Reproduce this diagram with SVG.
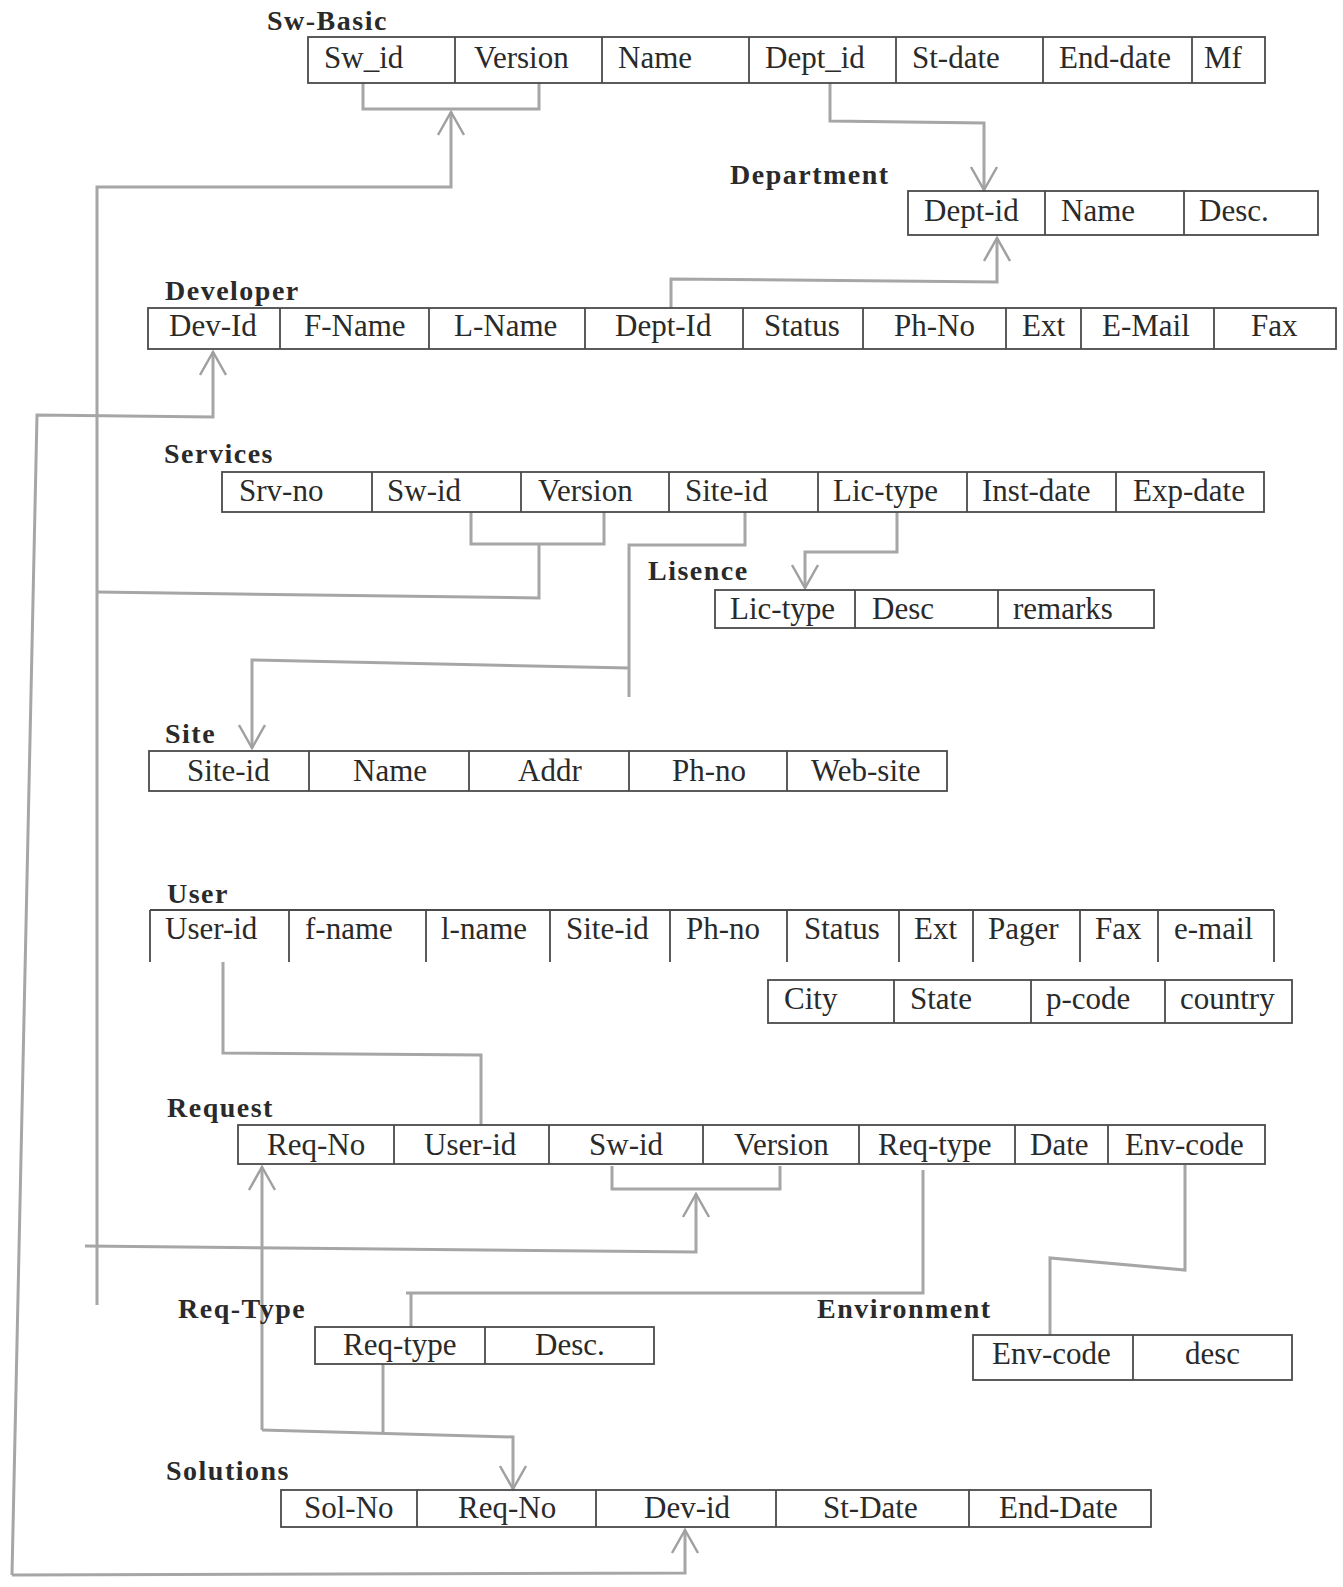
<svg xmlns="http://www.w3.org/2000/svg" width="1343" height="1587" viewBox="0 0 1343 1587">
<style>
.bg{fill:#ffffff}
.box{fill:none;stroke:#4a4a4a;stroke-width:1.8}
.div{stroke:#4a4a4a;stroke-width:1.8}
.t{font-family:"Liberation Serif","Times New Roman",serif;font-size:31px;fill:#2a2a2a}
.lbl{font-family:"Liberation Serif","Times New Roman",serif;font-size:28px;font-weight:bold;letter-spacing:1.5px;fill:#2a2a2a}
.c{fill:none;stroke:#a6a6a6;stroke-width:3;stroke-linejoin:miter}
</style>
<defs>
<marker id="ah" markerUnits="userSpaceOnUse" markerWidth="40" markerHeight="40" refX="30" refY="20" orient="auto">
<path d="M7,7 L30,20 L7,33" fill="none" stroke="#a0a0a0" stroke-width="2.5"/>
</marker>
</defs>
<rect class="bg" x="0" y="0" width="1343" height="1587"/>

<g id="connectors">
<path class="c" d="M363,83 V109 H539 V83"/>
<path class="c" d="M97,1305 V187 H451 V112" marker-end="url(#ah)"/>
<path class="c" d="M471,512 V544 H604 V512"/>
<path class="c" d="M539,544 V598 L97,592"/>
<path class="c" d="M612,1166 V1189 H780 V1166"/>
<path class="c" d="M85,1246 L696,1252 V1194" marker-end="url(#ah)"/>
<path class="c" d="M830,83 V121 L984,123 V190" marker-end="url(#ah)"/>
<path class="c" d="M671,308 V279 L997,282 V238" marker-end="url(#ah)"/>
<path class="c" d="M12,1575 L37,415 L213,417 V352" marker-end="url(#ah)"/>
<path class="c" d="M12,1575 L685,1573 V1530" marker-end="url(#ah)"/>
<path class="c" d="M745,512 V545 H629 V697"/>
<path class="c" d="M629,668 L252,660 V748" marker-end="url(#ah)"/>
<path class="c" d="M897,512 V552 H805 V588" marker-end="url(#ah)"/>
<path class="c" d="M223,962 V1053 L481,1055 V1125"/>
<path class="c" d="M262,1430 V1167" marker-end="url(#ah)"/>
<path class="c" d="M262,1430 L513,1437 V1489" marker-end="url(#ah)"/>
<path class="c" d="M383,1364 V1432"/>
<path class="c" d="M923,1170 V1293 H406 M411,1293 V1327"/>
<path class="c" d="M1185,1165 V1270 L1050,1258 V1335"/>
</g>

<g id="sw-basic">
<text class="lbl" x="267" y="30">Sw-Basic</text>
<rect class="box" x="308" y="37" width="957" height="46"/>
<path class="div" d="M455,37V83M602,37V83M749,37V83M896,37V83M1043,37V83M1192,37V83"/>
<text class="t" x="324" y="68">Sw_id</text>
<text class="t" x="474" y="68">Version</text>
<text class="t" x="618" y="68">Name</text>
<text class="t" x="765" y="68">Dept_id</text>
<text class="t" x="912" y="68">St-date</text>
<text class="t" x="1059" y="68">End-date</text>
<text class="t" x="1204" y="68">Mf</text>
</g>

<g id="department">
<text class="lbl" x="730" y="184">Department</text>
<rect class="box" x="908" y="191" width="410" height="44"/>
<path class="div" d="M1045,191V235M1184,191V235"/>
<text class="t" x="924" y="221">Dept-id</text>
<text class="t" x="1061" y="221">Name</text>
<text class="t" x="1199" y="221">Desc.</text>
</g>

<g id="developer">
<text class="lbl" x="165" y="300">Developer</text>
<rect class="box" x="148" y="308" width="1188" height="41"/>
<path class="div" d="M280,308V349M429,308V349M585,308V349M743,308V349M863,308V349M1006,308V349M1081,308V349M1214,308V349"/>
<text class="t" x="169" y="336">Dev-Id</text>
<text class="t" x="304" y="336">F-Name</text>
<text class="t" x="454" y="336">L-Name</text>
<text class="t" x="615" y="336">Dept-Id</text>
<text class="t" x="764" y="336">Status</text>
<text class="t" x="894" y="336">Ph-No</text>
<text class="t" x="1022" y="336">Ext</text>
<text class="t" x="1102" y="336">E-Mail</text>
<text class="t" x="1251" y="336">Fax</text>
</g>

<g id="services">
<text class="lbl" x="164" y="463">Services</text>
<rect class="box" x="222" y="472" width="1042" height="40"/>
<path class="div" d="M372,472V512M521,472V512M669,472V512M818,472V512M967,472V512M1116,472V512"/>
<text class="t" x="239" y="501">Srv-no</text>
<text class="t" x="387" y="501">Sw-id</text>
<text class="t" x="538" y="501">Version</text>
<text class="t" x="685" y="501">Site-id</text>
<text class="t" x="833" y="501">Lic-type</text>
<text class="t" x="982" y="501">Inst-date</text>
<text class="t" x="1133" y="501">Exp-date</text>
</g>

<g id="lisence">
<text class="lbl" x="648" y="580">Lisence</text>
<rect class="box" x="715" y="590" width="439" height="38"/>
<path class="div" d="M855,590V628M998,590V628"/>
<text class="t" x="730" y="619">Lic-type</text>
<text class="t" x="872" y="619">Desc</text>
<text class="t" x="1013" y="619">remarks</text>
</g>

<g id="site">
<text class="lbl" x="165" y="743">Site</text>
<rect class="box" x="149" y="751" width="798" height="40"/>
<path class="div" d="M309,751V791M469,751V791M629,751V791M787,751V791"/>
<text class="t" x="187" y="781">Site-id</text>
<text class="t" x="353" y="781">Name</text>
<text class="t" x="518" y="781">Addr</text>
<text class="t" x="672" y="781">Ph-no</text>
<text class="t" x="811" y="781">Web-site</text>
</g>

<g id="user">
<text class="lbl" x="167" y="903">User</text>
<path class="div" d="M150,910H1274M150,910V962M289,910V962M426,910V962M550,910V962M670,910V962M787,910V962M899,910V962M973,910V962M1080,910V962M1158,910V962M1274,910V962"/>
<text class="t" x="165" y="939">User-id</text>
<text class="t" x="305" y="939">f-name</text>
<text class="t" x="441" y="939">l-name</text>
<text class="t" x="566" y="939">Site-id</text>
<text class="t" x="686" y="939">Ph-no</text>
<text class="t" x="804" y="939">Status</text>
<text class="t" x="914" y="939">Ext</text>
<text class="t" x="988" y="939">Pager</text>
<text class="t" x="1095" y="939">Fax</text>
<text class="t" x="1174" y="939">e-mail</text>
<rect class="box" x="768" y="980" width="524" height="43"/>
<path class="div" d="M894,980V1023M1031,980V1023M1165,980V1023"/>
<text class="t" x="784" y="1009">City</text>
<text class="t" x="910" y="1009">State</text>
<text class="t" x="1046" y="1009">p-code</text>
<text class="t" x="1180" y="1009">country</text>
</g>

<g id="request">
<text class="lbl" x="167" y="1117">Request</text>
<rect class="box" x="238" y="1125" width="1027" height="39"/>
<path class="div" d="M394,1125V1164M549,1125V1164M703,1125V1164M859,1125V1164M1015,1125V1164M1108,1125V1164"/>
<text class="t" x="267" y="1155">Req-No</text>
<text class="t" x="424" y="1155">User-id</text>
<text class="t" x="589" y="1155">Sw-id</text>
<text class="t" x="734" y="1155">Version</text>
<text class="t" x="878" y="1155">Req-type</text>
<text class="t" x="1030" y="1155">Date</text>
<text class="t" x="1125" y="1155">Env-code</text>
</g>

<g id="req-type">
<text class="lbl" x="178" y="1318">Req-Type</text>
<rect class="box" x="315" y="1327" width="339" height="37"/>
<path class="div" d="M485,1327V1364"/>
<text class="t" x="343" y="1355">Req-type</text>
<text class="t" x="535" y="1355">Desc.</text>
</g>

<g id="environment">
<text class="lbl" x="817" y="1318">Environment</text>
<rect class="box" x="973" y="1335" width="319" height="45"/>
<path class="div" d="M1133,1335V1380"/>
<text class="t" x="992" y="1364">Env-code</text>
<text class="t" x="1185" y="1364">desc</text>
</g>

<g id="solutions">
<text class="lbl" x="166" y="1480">Solutions</text>
<rect class="box" x="281" y="1490" width="870" height="37"/>
<path class="div" d="M417,1490V1527M596,1490V1527M776,1490V1527M969,1490V1527"/>
<text class="t" x="304" y="1518">Sol-No</text>
<text class="t" x="458" y="1518">Req-No</text>
<text class="t" x="644" y="1518">Dev-id</text>
<text class="t" x="823" y="1518">St-Date</text>
<text class="t" x="999" y="1518">End-Date</text>
</g>
</svg>
